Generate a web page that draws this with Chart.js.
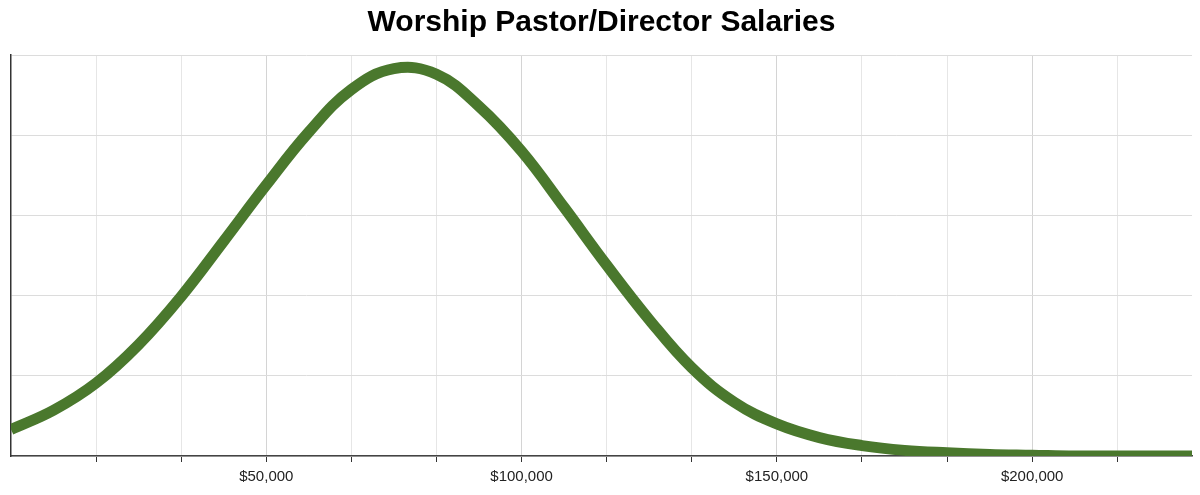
<!DOCTYPE html>
<html>
<head>
<meta charset="utf-8">
<script src="https://cdn.jsdelivr.net/npm/chart.js@4/dist/chart.umd.min.js"></script>
<style>
  html, body { margin: 0; padding: 0; background: #fff; }
  #wrap { width: 1200px; height: 495px; }
</style>
</head>
<body>
<div id="wrap"><canvas id="salaryChart"></canvas></div>
<script>
  // salary points (dollars) and curve height
  const salaries = [0, 8333, 16667, 25000, 33333, 41667, 50000, 58333, 66667, 75000,
    83333, 91667, 100000, 108333, 116667, 125000, 133333, 141667, 150000, 158333,
    166667, 175000, 183333, 191667, 200000, 208333, 216667, 225000, 233333];
  const curve = [0.33, 0.57, 0.91, 1.39, 1.99, 2.68, 3.38, 4.04, 4.57, 4.83,
    4.76, 4.36, 3.8, 3.1, 2.38, 1.7, 1.1, 0.67, 0.4, 0.23,
    0.13, 0.07, 0.04, 0.02, 0.01, 0, 0, 0, 0];
  const labelledTicks = [50000, 100000, 150000, 200000];

  const points = salaries.map((s, i) => ({ x: s, y: curve[i] }));

  function isLabelled(v) {
    return labelledTicks.some((t) => Math.abs(t - v) < 1);
  }

  new Chart(document.querySelector("#salaryChart"), {
    type: "line",
    data: {
      datasets: [
        {
          data: points,
          borderColor: "#4a782d",
          borderWidth: 11,
          pointRadius: 0,
          fill: false,
          tension: 0.4,
          clip: 0,
        },
      ],
    },
    options: {
      responsive: true,
      maintainAspectRatio: false,
      animation: false,
      layout: { padding: { left: 11, right: 8, top: 0, bottom: 3 } },
      plugins: {
        legend: { display: false },
        tooltip: { enabled: false },
        title: {
          display: true,
          text: "Worship Pastor/Director Salaries",
          color: "#000",
          font: { family: "Liberation Sans, Arial, sans-serif", size: 30, weight: "bold" },
          padding: { top: 5, bottom: 14 },
        },
      },
      scales: {
        x: {
          type: "linear",
          min: 0,
          max: 231300,
          afterBuildTicks: (axis) => {
            const ticks = [];
            for (let i = 1; i * 50000 / 3 <= 231300; i++) {
              ticks.push({ value: Math.round(i * 50000 / 3) });
            }
            axis.ticks = ticks;
          },
          ticks: {
            autoSkip: false,
            maxRotation: 0,
            color: "#222",
            padding: 6,
            font: { family: "Liberation Sans, Arial, sans-serif", size: 15 },
            callback: (v) => (isLabelled(v) ? "$" + Math.round(v).toLocaleString("en-US") : ""),
          },
          grid: {
            color: (ctx) => (ctx.tick && isLabelled(ctx.tick.value) ? "#d4d4d4" : "#e6e6e6"),
            tickColor: "#333",
            tickLength: 6,
            lineWidth: 1,
          },
          border: { color: "#444", width: 1.5 },
        },
        y: {
          min: 0,
          max: 5,
          ticks: { display: false, stepSize: 1 },
          grid: { color: "#dcdcdc", drawTicks: false },
          border: { color: "#333", width: 1.5 },
        },
      },
    },
  });
</script>
</body>
</html>
